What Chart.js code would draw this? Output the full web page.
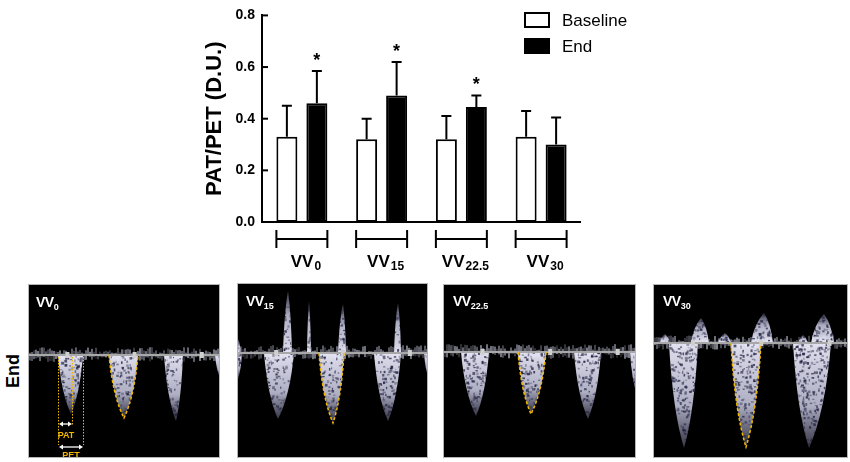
<!DOCTYPE html>
<html><head><meta charset="utf-8">
<script src="https://cdn.jsdelivr.net/npm/chart.js@4.4.1/dist/chart.umd.min.js"></script>
<style>
html,body{margin:0;padding:0;background:#fff;width:850px;height:462px;overflow:hidden;font-family:"Liberation Sans",Arial,sans-serif;}
#chartCanvas{position:absolute;left:0;top:0;}
.panel{position:absolute;background:#000;border:1px solid #b4b4b4;box-sizing:border-box;overflow:hidden;}
.panel canvas{position:absolute;left:0;top:0;}
.plabel{position:absolute;color:#fff;font-weight:bold;font-size:14px;letter-spacing:-0.5px;}
.plabel span{font-size:9px;position:relative;top:3px;letter-spacing:0;}
#endLabel{position:absolute;left:13px;top:371px;transform:translate(-50%,-50%) rotate(-90deg);font-weight:bold;font-size:18px;color:#000;}
</style></head>
<body>
<canvas id="chartCanvas" width="850" height="280"></canvas>
<div id="endLabel">End</div>
<div id="panels"></div>
<script>
// ---------- data ----------
const categoryBase = 'VV';
const categorySub = ['0', '15', '22.5', '30'];
const categories = categorySub.map(s => categoryBase + s);
const seriesNames = ['Baseline', 'End'];
const baselineMean = [0.33, 0.32, 0.32, 0.33];
const baselineSD   = [0.12, 0.08, 0.09, 0.10];
const endMean      = [0.46, 0.49, 0.445, 0.30];
const endSD        = [0.125, 0.13, 0.045, 0.105];
const endSignificant = [true, true, true, false];
const yTicks = [0.0, 0.2, 0.4, 0.6, 0.8];
const yTitle = 'PAT/PET (D.U.)';

const FONT = '"Liberation Sans", Arial, sans-serif';

const overlay = {
  id: 'overlay',
  afterDatasetsDraw(chart) {
    const ctx = chart.ctx, xs = chart.scales.x, ys = chart.scales.y, area = chart.chartArea;
    const m0 = chart.getDatasetMeta(0), m1 = chart.getDatasetMeta(1);
    ctx.save();
    ctx.strokeStyle = '#000'; ctx.fillStyle = '#000'; ctx.lineWidth = 2; ctx.lineCap = 'butt';
    // x axis line
    const y0 = ys.getPixelForValue(0);
    ctx.beginPath(); ctx.moveTo(area.left - 1, y0); ctx.lineTo(area.right, y0); ctx.stroke();
    // inward y ticks
    yTicks.forEach(v => { if (v === 0) return; const p = ys.getPixelForValue(v);
      ctx.beginPath(); ctx.moveTo(area.left, p); ctx.lineTo(area.left + 6, p); ctx.stroke(); });
    // error bars
    const errs = [[m0, baselineMean, baselineSD], [m1, endMean, endSD]];
    errs.forEach(([meta, mean, sd]) => {
      meta.data.forEach((bar, i) => {
        const top = ys.getPixelForValue(mean[i] + sd[i]);
        const b = ys.getPixelForValue(mean[i]);
        ctx.beginPath(); ctx.moveTo(bar.x, b); ctx.lineTo(bar.x, top);
        ctx.moveTo(bar.x - 5, top); ctx.lineTo(bar.x + 5, top); ctx.stroke();
      });
    });
    // significance
    ctx.font = 'bold 18px ' + FONT; ctx.textAlign = 'center'; ctx.textBaseline = 'alphabetic';
    m1.data.forEach((bar, i) => {
      if (!endSignificant[i]) return;
      const top = ys.getPixelForValue(endMean[i] + endSD[i]);
      ctx.fillText('*', bar.x, top - 5);
    });
    // group brackets + labels
    categories.forEach((c, i) => {
      const b0 = m0.data[i], b1 = m1.data[i];
      const l = b0.x - b0.width / 2, r = b1.x + b1.width / 2;
      const yb = y0 + 17;
      ctx.beginPath();
      ctx.moveTo(l, yb); ctx.lineTo(r, yb);
      ctx.moveTo(l, yb - 9); ctx.lineTo(l, yb + 9);
      ctx.moveTo(r, yb - 9); ctx.lineTo(r, yb + 9);
      ctx.stroke();
      const cx = xs.getPixelForValue(i) + 4;
      ctx.font = 'bold 17px ' + FONT; const w1 = ctx.measureText(categoryBase).width;
      ctx.font = 'bold 12px ' + FONT; const w2 = ctx.measureText(categorySub[i]).width;
      const sx = cx - (w1 + w2 + 1) / 2;
      ctx.textAlign = 'left';
      ctx.font = 'bold 17px ' + FONT; ctx.fillText(categoryBase, sx, y0 + 45);
      ctx.font = 'bold 12px ' + FONT; ctx.fillText(categorySub[i], sx + w1 + 1, y0 + 48);
    });
    // legend
    const lx = 525;
    const ly = [13, 39];
    chart.data.datasets.forEach((ds, k) => {
      ctx.fillStyle = ds.backgroundColor; ctx.fillRect(lx, ly[k], 24, 14);
      ctx.strokeStyle = '#000'; ctx.strokeRect(lx, ly[k], 24, 14);
      ctx.fillStyle = '#000'; ctx.font = '17px ' + FONT; ctx.textAlign = 'left'; ctx.textBaseline = 'middle';
      ctx.fillText(ds.label, 562, ly[k] + 8);
    });
    ctx.restore();
  }
};

new Chart(document.getElementById('chartCanvas'), {
  type: 'bar',
  data: {
    labels: categories,
    datasets: [
      { label: seriesNames[0], data: baselineMean, backgroundColor: '#ffffff', borderColor: '#000', borderWidth: 2, borderSkipped: false },
      { label: seriesNames[1], data: endMean, backgroundColor: '#000000', borderColor: '#000', borderWidth: 2, borderSkipped: false }
    ]
  },
  options: {
    responsive: false, animation: false, devicePixelRatio: 1,
    categoryPercentage: 0.752, barPercentage: 0.7,
    layout: { padding: { left: 202, right: 269, top: 12, bottom: 58 } },
    plugins: { legend: { display: false }, tooltip: { enabled: false } },
    scales: {
      x: { display: false, offset: true },
      y: {
        min: 0, max: 0.8,
        afterFit(s) { s.width = 60; },
        afterBuildTicks(s) { s.ticks = yTicks.map(v => ({ value: v })); },
        grid: { display: false, drawTicks: false },
        border: { display: true, color: '#000', width: 2 },
        ticks: { padding: 7, color: '#000', font: { family: FONT, size: 14, weight: 'bold' }, callback: v => Number(v).toFixed(1) },
        title: { display: true, text: yTitle, color: '#000', padding: 0, font: { family: FONT, size: 22, weight: 'bold', lineHeight: 1.2 } }
      }
    }
  },
  plugins: [overlay]
});

// ---------- decorative Doppler panels (photographs in the original) ----------
function hsh(i) { const x = Math.sin(i * 12.9898 + 78.233) * 43758.5453; return x - Math.floor(x); }
const panels = [
  { x: 28, y: 284, w: 192, h: 174, base: 70, label: '0', lx: 7, ly: 9,
    down: [[29, 54, 42, 129], [80, 109, 95, 133], [135, 154, 147, 136], [186, 196, 192, 95]], up: [], annot: true },
  { x: 237, y: 283, w: 191, h: 175, base: 69, label: '15', lx: 8, ly: 9,
    down: [[-4, 4, 0, 95], [26, 56, 40, 135], [81, 106, 95, 139], [136, 163, 150, 137], [186, 194, 191, 95]],
    up: [[45, 54, 50, 7], [69, 73, 71, 17], [100, 108, 105, 20], [156, 163, 160, 19], [-2, 3, 0, 55]] },
  { x: 443, y: 284, w: 193, h: 174, base: 67, label: '22.5', lx: 9, ly: 8,
    down: [[17, 45, 32, 131], [74, 102, 87, 129], [130, 157, 144, 134], [186, 196, 193, 110]], up: [] },
  { x: 653, y: 284, w: 195, h: 174, base: 58, label: '30', lx: 9, ly: 8,
    down: [[15, 44, 30, 163], [77, 107, 92, 162], [139, 177, 155, 163]],
    up: [[6, 16, 11, 49], [37, 55, 47, 33], [64, 77, 71, 48], [97, 119, 110, 28], [144, 154, 149, 50], [157, 180, 170, 29]] }
];
const holder = document.getElementById('panels');
panels.forEach((p, pi) => {
  const d = document.createElement('div'); d.className = 'panel';
  d.style.left = p.x + 'px'; d.style.top = p.y + 'px'; d.style.width = p.w + 'px'; d.style.height = p.h + 'px';
  const cv = document.createElement('canvas'); cv.width = p.w; cv.height = p.h; d.appendChild(cv);
  const lb = document.createElement('div'); lb.className = 'plabel'; lb.style.left = p.lx + 'px'; lb.style.top = p.ly + 'px';
  lb.innerHTML = 'VV<span>' + p.label + '</span>'; d.appendChild(lb);
  holder.appendChild(d);
  const c = cv.getContext('2d');
  let seed = pi * 1000;
  // noise band around baseline
  for (let x = 0; x < p.w; x += 2) {
    const hU = hsh(seed++) * 7, hD = hsh(seed++) * 6;
    c.fillStyle = 'rgba(170,170,190,' + (0.25 + hsh(seed++) * 0.45) + ')';
    c.fillRect(x, p.base - hU - 1, 2, hU);
    c.fillStyle = 'rgba(200,200,220,' + (0.15 + hsh(seed++) * 0.5) + ')';
    c.fillRect(x, p.base + 1, 2, hD);
  }
  function spikePath(s, dir) {
    const [l, r, tx, ty] = s, b = p.base;
    c.beginPath();
    c.moveTo(l, b);
    c.quadraticCurveTo(l + (tx - l) * 0.25, b + (ty - b) * 0.65, tx, ty);
    c.quadraticCurveTo(r - (r - tx) * 0.25, b + (ty - b) * 0.65, r, b);
  }
  function drawSpike(s) {
    const [l, r, tx, ty] = s;
    spikePath(s); c.closePath();
    const g = c.createLinearGradient(0, p.base, 0, ty);
    g.addColorStop(0, 'rgba(235,235,250,0.95)'); g.addColorStop(0.6, 'rgba(205,205,230,0.85)'); g.addColorStop(1, 'rgba(160,160,200,0.35)');
    c.fillStyle = g; c.fill();
    c.save(); spikePath(s); c.closePath(); c.clip();
    const n = Math.abs((r - l) * (ty - p.base)) / 14;
    for (let k = 0; k < n; k++) {
      const x = l + hsh(seed++) * (r - l), y = Math.min(p.base, ty) + hsh(seed++) * Math.abs(ty - p.base);
      c.fillStyle = 'rgba(30,30,60,' + (0.3 + hsh(seed++) * 0.5) + ')';
      c.fillRect(x, y, 1 + hsh(seed++) * 2, 1 + hsh(seed++) * 2);
    }
    c.restore();
  }
  p.down.forEach(drawSpike);
  p.up.forEach(drawSpike);
  // baseline
  c.strokeStyle = '#a8a8a8'; c.lineWidth = 2;
  c.beginPath(); c.moveTo(0, p.base); c.lineTo(p.w, p.base); c.stroke();
  c.fillStyle = '#cfcfcf';
  [0.2, 0.55, 0.9].forEach(f => c.fillRect(p.w * f - 2, p.base - 3, 4, 6));
  // yellow dashed outline of middle beat
  c.save(); c.strokeStyle = '#f2b705'; c.lineWidth = 1.5; c.setLineDash([3, 2]);
  spikePath(p.down[pi === 1 ? 2 : 1]); c.stroke(); c.restore();
  if (p.annot) {
    c.save(); c.strokeStyle = '#f2b705'; c.lineWidth = 1; c.setLineDash([1.5, 1.5]);
    [29, 43, 54].forEach(x => { c.beginPath(); c.moveTo(x + 0.5, 72); c.lineTo(x + 0.5, x === 43 ? 140 : 160); c.stroke(); });
    c.restore();
    c.strokeStyle = '#fff'; c.fillStyle = '#fff'; c.lineWidth = 1.3;
    function arrow(x1, x2, y) {
      c.beginPath(); c.moveTo(x1 + 2, y); c.lineTo(x2 - 2, y); c.stroke();
      c.beginPath(); c.moveTo(x1, y); c.lineTo(x1 + 4, y - 2.5); c.lineTo(x1 + 4, y + 2.5); c.closePath(); c.fill();
      c.beginPath(); c.moveTo(x2, y); c.lineTo(x2 - 4, y - 2.5); c.lineTo(x2 - 4, y + 2.5); c.closePath(); c.fill();
    }
    arrow(30, 43, 139); arrow(30, 54, 162);
    c.fillStyle = '#f2b705'; c.font = 'bold 9px ' + FONT; c.textAlign = 'center'; c.textBaseline = 'middle';
    c.fillText('PAT', 37, 151); c.fillText('PET', 42, 171);
  }
});
</script>
</body></html>
